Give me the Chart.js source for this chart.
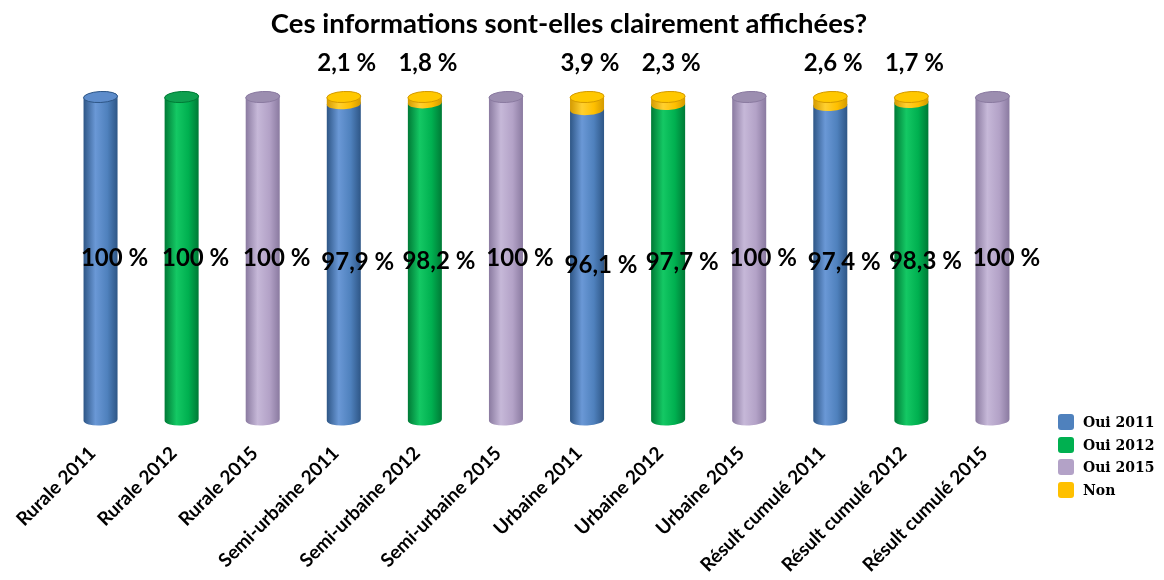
<!DOCTYPE html>
<html>
<head>
<meta charset="utf-8">
<script src="https://cdn.jsdelivr.net/npm/chart.js@4/dist/chart.umd.min.js"></script>
<style>
  body { margin: 0; background: #fff; }
  #wrap { position: relative; width: 1164px; height: 580px; }
  #legend { position: absolute; left: 1058px; top: 411px; font: bold 14px "DejaVu Serif", serif; }
  #legend div { height: 22.5px; display: flex; align-items: center; }
  #legend span.sw { width: 16px; height: 16px; border-radius: 3px; margin-right: 9px; display: inline-block; }
</style>
</head>
<body>
<div id="wrap">
  <canvas id="chart"></canvas>
  <div id="legend"></div>
</div>
<script>
const categories = ['Rurale 2011', 'Rurale 2012', 'Rurale 2015',
  'Semi-urbaine 2011', 'Semi-urbaine 2012', 'Semi-urbaine 2015',
  'Urbaine 2011', 'Urbaine 2012', 'Urbaine 2015',
  'Résult cumulé 2011', 'Résult cumulé 2012', 'Résult cumulé 2015'];

const oui2011 = [100, null, null, 97.9, null, null, 96.1, null, null, 97.4, null, null];
const oui2012 = [null, 100, null, null, 98.2, null, null, 97.7, null, null, 98.3, null];
const oui2015 = [null, null, 100, null, null, 100, null, null, 100, null, null, 100];
const non     = [0, 0, 0, 2.1, 1.8, 0, 3.9, 2.3, 0, 2.6, 1.7, 0];

const seriesNames = ['Oui 2011', 'Oui 2012', 'Oui 2015', 'Non'];
const series = [oui2011, oui2012, oui2015, non];
const titleText = 'Ces informations sont-elles clairement affichées?';

// colours: base, edge, highlight, top cap
const shades = [
  { base: '#4F81BD', edge: '#2E5686', light: '#6A98D6', top: '#5D8CCB' },
  { base: '#00B050', edge: '#007A36', light: '#14C864', top: '#0FA050' },
  { base: '#B3A2C7', edge: '#8A7AA0', light: '#C6B8D8', top: '#9C8EB0' },
  { base: '#FFC000', edge: '#D49A00', light: '#FFD030', top: '#FFC800' }
];

function fmt(v) {
  return (Number.isInteger(v) ? String(v) : v.toFixed(1).replace('.', ',')) + ' %';
}

const tilt = -0.05;

function drawCylinder(ctx, x, top, base, w, c, withTop) {
  const rx = w / 2, ry = 5.5;
  const g = ctx.createLinearGradient(x - rx, 0, x + rx, 0);
  g.addColorStop(0, c.edge);
  g.addColorStop(0.35, c.light);
  g.addColorStop(0.7, c.base);
  g.addColorStop(1, c.edge);
  ctx.beginPath();
  ctx.ellipse(x, top, rx, ry, tilt, Math.PI, 0, false);
  ctx.ellipse(x, base, rx, ry, tilt, 0, Math.PI, false);
  ctx.closePath();
  ctx.fillStyle = g;
  ctx.fill();
  if (withTop) {
    ctx.beginPath();
    ctx.ellipse(x, top, rx, ry, tilt, 0, Math.PI * 2);
    ctx.fillStyle = c.top;
    ctx.fill();
    ctx.lineWidth = 1;
    ctx.strokeStyle = c.edge;
    ctx.stroke();
  }
}

const cylinderPlugin = {
  id: 'cylinders',
  beforeDatasetsDraw(chart) {
    const ctx = chart.ctx;
    ctx.save();
    chart.data.datasets.forEach((ds, di) => {
      const meta = chart.getDatasetMeta(di);
      meta.data.forEach((bar, i) => {
        const v = ds.data[i];
        if (v == null || v === 0) return;
        const isTop = di === 3 || !non[i];
        drawCylinder(ctx, bar.x, bar.y, bar.base, bar.width, shades[di], isTop);
      });
    });
    ctx.restore();
    return false;
  },
  afterDraw(chart) {
    const ctx = chart.ctx;
    ctx.save();
    ctx.fillStyle = '#000';
    ctx.textAlign = 'center';
    ctx.textBaseline = 'middle';
    ctx.font = 'bold 27.5px Lato';
    ctx.fillText(titleText, 569, 24);
    ctx.font = 'bold 24px Lato';
    chart.data.datasets.forEach((ds, di) => {
      const meta = chart.getDatasetMeta(di);
      meta.data.forEach((bar, i) => {
        const v = ds.data[i];
        if (v == null || v === 0) return;
        if (di === 3) {
          ctx.fillText(fmt(v), bar.x + 3, bar.y - 34);
        } else {
          ctx.fillText(fmt(v), bar.x + 14, (bar.y + bar.base) / 2);
        }
      });
    });
    ctx.restore();
  }
};

const chart = new Chart(document.getElementById('chart'), {
  type: 'bar',
  data: {
    labels: categories,
    datasets: series.map((d, i) => ({
      label: seriesNames[i],
      data: d,
      backgroundColor: shades[i].base,
      barPercentage: 0.42,
      categoryPercentage: 1
    }))
  },
  options: {
    responsive: true,
    maintainAspectRatio: false,
    animation: false,
    layout: { padding: { left: 60, right: 131, top: 97, bottom: 0 } },
    plugins: {
      legend: { display: false },
      tooltip: { enabled: false },
      title: { display: false }
    },
    scales: {
      x: {
        stacked: true,
        grid: { display: false },
        border: { display: false },
        afterFit(scale) { scale.height = 160; },
        ticks: {
          autoSkip: false,
          maxRotation: 45,
          minRotation: 45,
          padding: 14,
          labelOffset: -8,
          color: '#000',
          font: { family: 'Lato', size: 19, weight: 'bold' }
        }
      },
      y: {
        stacked: true,
        display: false,
        min: 0,
        max: 100
      }
    }
  },
  plugins: [cylinderPlugin]
});

const legendEl = document.getElementById('legend');
seriesNames.forEach((l, i) => {
  const row = document.createElement('div');
  row.innerHTML = '<span class="sw" style="background:' + shades[i].base + '"></span>' + l;
  legendEl.appendChild(row);
});
</script>
</body>
</html>
